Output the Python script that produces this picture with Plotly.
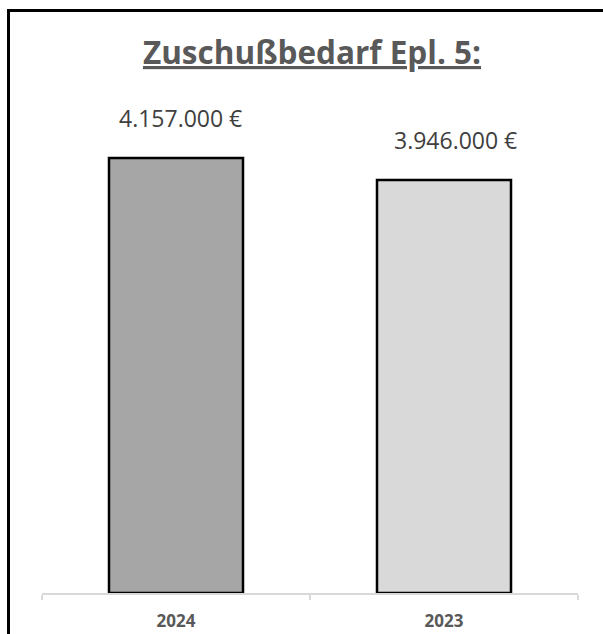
import plotly.graph_objects as go

categories = ["2024", "2023"]
values = [4157000, 3946000]
bar_colors = ["#a6a6a6", "#d9d9d9"]
label_texts = ["4.157.000 €", "3.946.000 €"]
label_xshift = [4, 11]
title_text = "Zuschußbedarf Epl. 5:"

W, H = 603, 634
ml, mr, mt, mb = 42, 25, 100, 41
pw, ph = W - ml - mr, H - mt - mb

fig = go.Figure()
fig.add_trace(go.Bar(
    x=categories, y=values,
    marker=dict(color=bar_colors, line=dict(color="#000000", width=2.5)),
    hoverinfo="skip",
))

for i, (v, t, xs) in enumerate(zip(values, label_texts, label_xshift)):
    fig.add_annotation(x=i, y=v, text=t, showarrow=False, xshift=xs, yshift=40,
                       yanchor="middle", xanchor="center",
                       font=dict(family="Open Sans", size=23, color="#404040"))

def px_x(p):
    return (p - ml) / pw

def px_y(p):
    return (H - mb - p) / ph

# outer frame (cropped chart border: left and top visible)
fig.add_shape(type="line", xref="paper", yref="paper",
              x0=px_x(8.5), x1=px_x(8.5), y0=px_y(660), y1=px_y(10.5),
              line=dict(color="#000000", width=3))
fig.add_shape(type="line", xref="paper", yref="paper",
              x0=px_x(7), x1=px_x(640), y0=px_y(10.5), y1=px_y(10.5),
              line=dict(color="#000000", width=3))

fig.update_layout(
    width=W, height=H,
    margin=dict(l=ml, r=mr, t=mt, b=mb, autoexpand=False),
    paper_bgcolor="#ffffff", plot_bgcolor="#ffffff",
    bargap=0.5,
    showlegend=False,
    title=dict(text="<b><u>" + title_text + "</u></b>", x=312 / W, xanchor="center",
               yref="container", y=1 - 53 / H, yanchor="middle",
               font=dict(family="Open Sans", size=31.5, color="#595959")),
    xaxis=dict(type="category", range=[-0.5, 1.5], autorange=False,
               showline=True, linecolor="#d9d9d9", linewidth=2,
               ticks="outside", tickson="boundaries", ticklen=5, tickcolor="#d9d9d9",
               tickwidth=2, showgrid=False, zeroline=False, tickangle=0,
               ticklabelstandoff=12,
               tickfont=dict(family="Open Sans", size=17, color="#595959"),
               tickprefix="<b>", ticksuffix="</b>"),
    yaxis=dict(range=[0, 4711000], autorange=False, visible=False,
               showgrid=False, zeroline=False),
)

fig.write_html("out.html", config={"displayModeBar": False, "staticPlot": True},
               post_script="document.body.style.margin='0';document.body.style.overflow='hidden';")
